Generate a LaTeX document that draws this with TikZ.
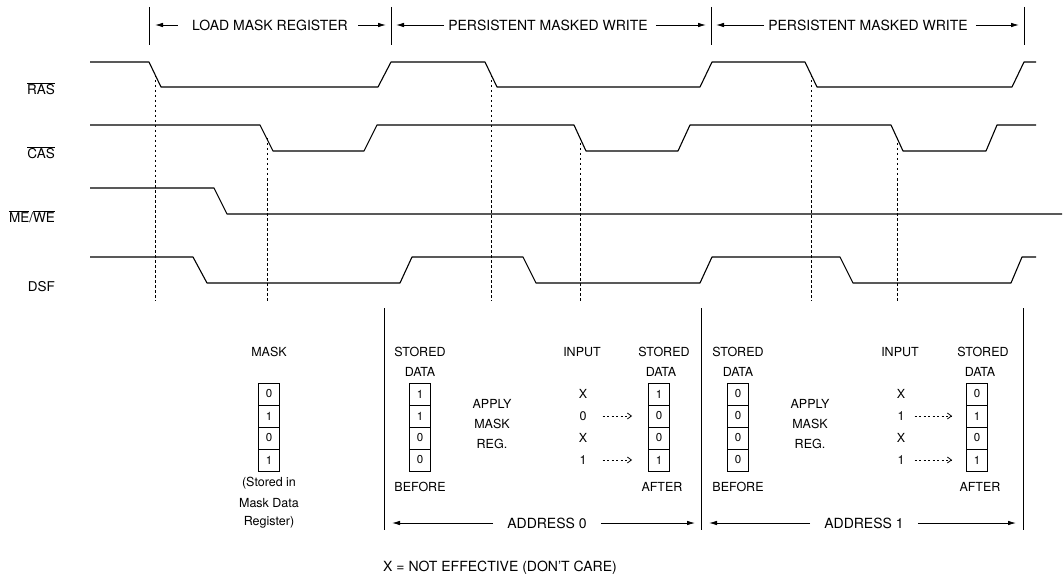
\documentclass[tikz,border=0pt]{standalone}
\usepackage{fontspec}
\setmainfont{TeX Gyre Heros}
\usetikzlibrary{arrows.meta}
\newcommand{\bitcol}[6]{%
  \node[bitbox] (#1a) at (#2,394) {#3};
  \node[bitbox] (#1b) at (#2,416) {#4};
  \node[bitbox] (#1c) at (#2,438) {#5};
  \node[bitbox] (#1d) at (#2,460) {#6};}
\begin{document}
\begin{tikzpicture}[x=1pt,y=-1pt,
  sig/.style={line width=1.1pt, line join=round},
  tim/.style={line width=0.7pt, dash pattern=on 2.5pt off 2.5pt},
  tick/.style={line width=0.9pt},
  lbl/.style={font=\fontsize{14}{16}\selectfont, inner sep=0pt},
  sm/.style={font=\fontsize{12.5}{15}\selectfont, inner sep=0pt},
  siglbl/.style={font=\fontsize{13.5}{16}\selectfont, inner sep=0pt, anchor=base east},
  bitbox/.style={draw, line width=0.9pt, minimum width=21pt, minimum height=22pt, inner sep=0pt, font=\fontsize{11.5}{14}\selectfont},
  arr/.style={line width=0.8pt, -{Latex[length=8pt,width=4.5pt]}},
  darr/.style={line width=0.8pt, dash pattern=on 2pt off 2.5pt, -{Straight Barb[length=4pt,width=6pt]}}
]
\useasboundingbox (0,0) rectangle (1063,583);
% signal labels
\node[siglbl] (lras) at (55,95) {$\overline{\mbox{RAS}}$};
\node[siglbl] (lcas) at (55,159) {$\overline{\mbox{CAS}}$};
\node[siglbl] (lme) at (55,222) {$\overline{\mbox{ME}}$/$\overline{\mbox{WE}}$};
\node[siglbl] (ldsf) at (55,291) {DSF};
% waveforms
\draw[sig] (90,62) -- (149,62) -- (161,87) -- (378,87) -- (391,62) -- (485,62) -- (497,87) -- (700,87) -- (712,62) -- (805,62) -- (817,87) -- (1012,87) -- (1024,62) -- (1036,62);
\draw[sig] (90,125) -- (260,125) -- (273,151) -- (364,151) -- (377,125) -- (574,125) -- (586,151) -- (678,151) -- (690,125) -- (891,125) -- (903,151) -- (986,151) -- (997,125) -- (1036,125);
\draw[sig] (90,188) -- (214,188) -- (227,214) -- (1062,214);
\draw[sig] (90,257) -- (193,257) -- (207,283) -- (400,283) -- (412,257) -- (523,257) -- (536,283) -- (700,283) -- (712,257) -- (840,257) -- (853,283) -- (1011,283) -- (1022,257) -- (1036,257);
% timing dashed lines
\foreach \x in {155,491,811} \draw[tim] (\x,75) -- (\x,301);
\foreach \x in {267,580,897} \draw[tim] (\x,138) -- (\x,301);
% top ticks
\foreach \x in {149,391,711,1024} \draw[tick] (\x,7) -- (\x,45);
% top labels and arrows
\node[lbl] (t1) at (270,25) {LOAD MASK REGISTER};
\node[lbl] (t2) at (548,25) {PERSISTENT MASKED WRITE};
\node[lbl] (t3) at (868,25) {PERSISTENT MASKED WRITE};
\coordinate (a1) at (155,25); \coordinate (b1) at (386,25);
\coordinate (a2) at (396,25); \coordinate (b2) at (706,25);
\coordinate (a3) at (716,25); \coordinate (b3) at (1019,25);
\draw[arr] ([xshift=-14pt]t1.west) -- (a1);
\draw[arr] ([xshift=10pt]t1.east) -- (b1);
\draw[arr] ([xshift=-4pt]t2.west) -- (a2);
\draw[arr] ([xshift=8pt]t2.east) -- (b2);
\draw[arr] ([xshift=-4pt]t3.west) -- (a3);
\draw[arr] ([xshift=8pt]t3.east) -- (b3);
% lower dividers
\foreach \x in {384,701,1023} \draw[tick] (\x,308) -- (\x,530);
% mask
\node[sm] (mask) at (269,352) {MASK};
\bitcol{m}{269}{0}{1}{0}{1}
\node[sm] (st1) at (269,483) {(Stored in};
\node[sm] (st2) at (269,503) {Mask Data};
\node[sm] (st3) at (269,522) {Register)};
% section address 0
\node[sm] (s0a) at (420,352) {STORED};
\node[sm] (s0b) at (420,372) {DATA};
\bitcol{p}{420}{1}{1}{0}{0}
\node[sm] (s0c) at (420,487) {BEFORE};
\node[sm] (ap0a) at (492,404) {APPLY};
\node[sm] (ap0b) at (492,424) {MASK};
\node[sm] (ap0c) at (492,444) {REG.};
\node[sm] (in0) at (582,352) {INPUT};
\node[sm] (i0a) at (583,394) {X};
\node[sm] (i0b) at (583,416) {0};
\node[sm] (i0c) at (583,438) {X};
\node[sm] (i0d) at (583,460) {1};
\bitcol{q}{659}{1}{0}{0}{1}
\node[sm] (s0d) at (664,352) {STORED};
\node[sm] (s0e) at (661,372) {DATA};
\node[sm] (s0f) at (662,487) {AFTER};
\draw[darr] ([xshift=16pt]i0b.east) -- ([xshift=-16pt]qb.west);
\draw[darr] ([xshift=16pt]i0d.east) -- ([xshift=-16pt]qd.west);
% section address 1
\node[sm] (s1a) at (738,352) {STORED};
\node[sm] (s1b) at (738,372) {DATA};
\bitcol{r}{738}{0}{0}{0}{0}
\node[sm] (s1c) at (738,487) {BEFORE};
\node[sm] (ap1a) at (810,404) {APPLY};
\node[sm] (ap1b) at (810,424) {MASK};
\node[sm] (ap1c) at (810,444) {REG.};
\node[sm] (in1) at (900,352) {INPUT};
\node[sm] (i1a) at (901,394) {X};
\node[sm] (i1b) at (901,416) {1};
\node[sm] (i1c) at (901,438) {X};
\node[sm] (i1d) at (901,460) {1};
\bitcol{s}{977}{0}{1}{0}{1}
\node[sm] (s1d) at (983,352) {STORED};
\node[sm] (s1e) at (980,372) {DATA};
\node[sm] (s1f) at (980,487) {AFTER};
\draw[darr] ([xshift=10pt]i1b.east) -- ([xshift=-14pt]sb.west);
\draw[darr] ([xshift=10pt]i1d.east) -- ([xshift=-14pt]sd.west);
% address arrows
\node[lbl] (ad0) at (547,523) {ADDRESS 0};
\node[lbl] (ad1) at (864,523) {ADDRESS 1};
\coordinate (c1) at (392,523); \coordinate (d1) at (695,523);
\coordinate (c2) at (709,523); \coordinate (d2) at (1016,523);
\draw[arr] ([xshift=-14pt]ad0.west) -- (c1);
\draw[arr] ([xshift=14pt]ad0.east) -- (d1);
\draw[arr] ([xshift=-14pt]ad1.west) -- (c2);
\draw[arr] ([xshift=14pt]ad1.east) -- (d2);
% footnote
\node[lbl, anchor=west] (note) at (383,568) {X = NOT EFFECTIVE (DON'T CARE)};
\end{tikzpicture}
\end{document}
